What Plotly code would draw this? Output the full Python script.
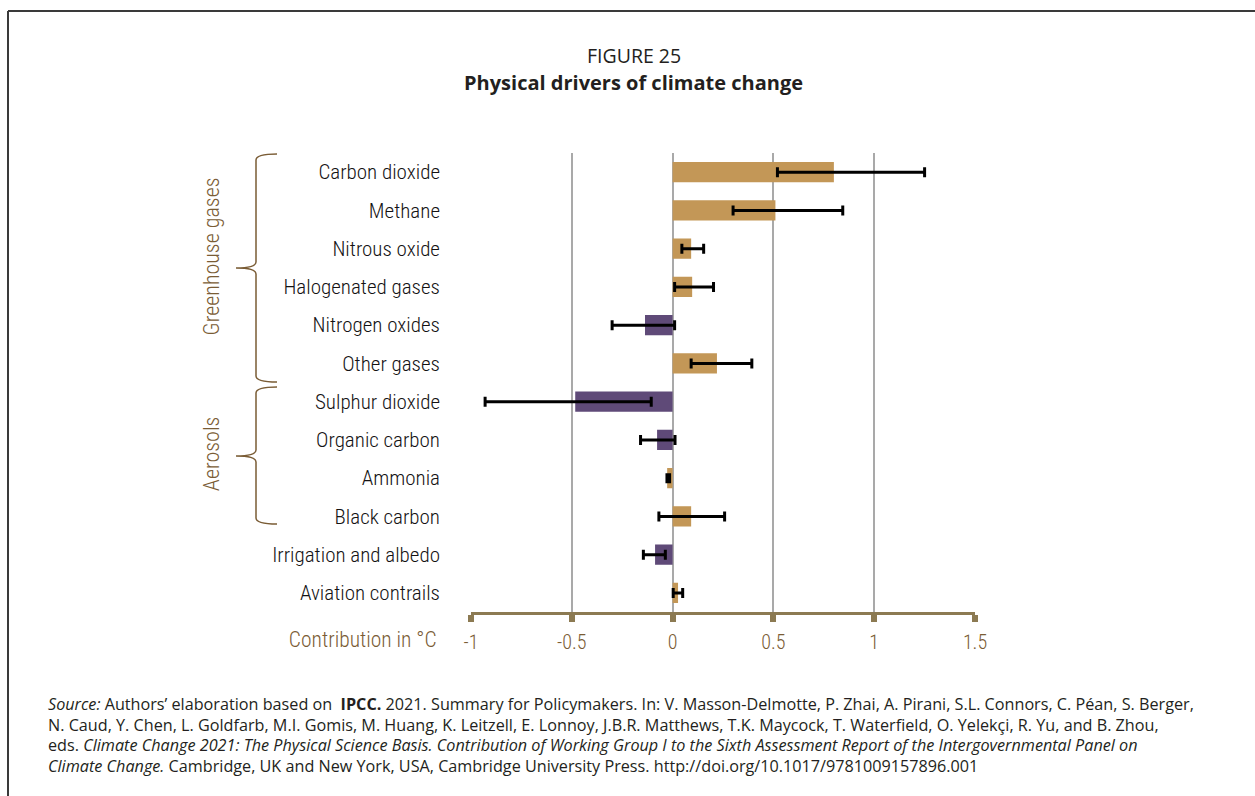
import plotly.graph_objects as go

# ---- data -------------------------------------------------------------
drivers = [
    "Carbon dioxide", "Methane", "Nitrous oxide", "Halogenated gases",
    "Nitrogen oxides", "Other gases", "Sulphur dioxide", "Organic carbon",
    "Ammonia", "Black carbon", "Irrigation and albedo", "Aviation contrails",
]
best_estimate = [0.80, 0.51, 0.092, 0.097, -0.137, 0.22, -0.483, -0.077,
                 -0.027, 0.092, -0.087, 0.027]
range_low = [0.52, 0.30, 0.046, 0.01, -0.30, 0.092, -0.93, -0.159,
             -0.028, -0.068, -0.145, 0.003]
range_high = [1.25, 0.844, 0.154, 0.203, 0.01, 0.393, -0.106, 0.012,
              -0.015, 0.258, -0.036, 0.05]
# warming (True) / cooling (False) shading used in the source figure
warming = [True, True, True, True, False, True, False, False,
           True, True, False, True]

x_ticks = [-1, -0.5, 0, 0.5, 1, 1.5]
x_tick_text = ["-1", "-0.5", "0", "0.5", "1", "1.5"]

# ---- styling ----------------------------------------------------------
TAN = "#C39757"
PURPLE = "#5F4A78"
BROWN = "#7A5C35"
AXIS_BROWN = "#8C7A52"
GRID = "#A9A9A9"
TEXT = "#231F20"
LABEL = "#141213"
COND = "Roboto, sans-serif"      # drawn with condensed width (CSS below)
BODY = "Open Sans, sans-serif"


def cond_font(size, color, weight=300):
    return dict(family=COND, size=size, color=color, weight=weight)


W, H = 1255, 796
PL, PR, PT, PB = 471, 975, 153, 612  # plot area in pixels


def px(x):
    return (x - PL) / (PR - PL)


def py(y):
    return (PB - y) / (PB - PT)


fig = go.Figure()
fig.add_trace(go.Bar(
    y=drivers,
    x=best_estimate,
    orientation="h",
    marker=dict(color=[TAN if w else PURPLE for w in warming], line=dict(width=0)),
    error_x=dict(
        type="data",
        symmetric=False,
        array=[h - v for h, v in zip(range_high, best_estimate)],
        arrayminus=[v - l for l, v in zip(range_low, best_estimate)],
        color="black",
        thickness=3,
        width=5,
    ),
    hoverinfo="x+y",
    showlegend=False,
))

fig.update_layout(
    width=W, height=H,
    margin=dict(l=PL, r=W - PR, t=PT, b=H - PB, pad=0),
    paper_bgcolor="white",
    plot_bgcolor="white",
    bargap=0.47,
    xaxis=dict(
        range=[-1, 1.5],
        tickvals=x_ticks,
        ticktext=x_tick_text,
        showgrid=True, gridcolor=GRID, gridwidth=1.5,
        zeroline=True, zerolinecolor=GRID, zerolinewidth=1.5,
        showline=True, linecolor=AXIS_BROWN, linewidth=3,
        ticks="outside", ticklen=7, tickwidth=6, tickcolor=AXIS_BROWN,
        tickfont=cond_font(20, BROWN),
        ticklabelstandoff=3,
        fixedrange=True,
    ),
    yaxis=dict(
        categoryorder="array", categoryarray=drivers,
        autorange="reversed",
        showgrid=False, zeroline=False, showline=False,
        ticks="", ticklabelstandoff=30,
        tickfont=cond_font(21, LABEL),
        fixedrange=True,
    ),
)

# ---- titles -------------------------------------------------------------
fig.add_annotation(text="FIGURE 25", x=px(634), y=py(55), xref="paper", yref="paper",
                   showarrow=False, xanchor="center", yanchor="middle",
                   font=dict(family=BODY, size=19.5, color=TEXT))
fig.add_annotation(text="<b>Physical drivers of climate change</b>", x=px(633), y=py(83),
                   xref="paper", yref="paper", showarrow=False,
                   xanchor="center", yanchor="middle",
                   font=dict(family=BODY, size=20, color=TEXT))

# axis caption
fig.add_annotation(text="Contribution in °C", x=px(447), y=py(639), xref="paper", yref="paper",
                   showarrow=False, xanchor="right", yanchor="middle",
                   font=cond_font(21.5, BROWN))

# ---- group braces and labels -------------------------------------------


def brace_path(top, tip, bottom, x_end=277, x_stem=256, x_tip=236, r=6):
    pts = [
        f"M {px(x_end)},{py(top)}",
        f"Q {px(x_stem)},{py(top)} {px(x_stem)},{py(top + r)}",
        f"L {px(x_stem)},{py(tip - r)}",
        f"Q {px(x_stem)},{py(tip)} {px(x_tip)},{py(tip)}",
        f"Q {px(x_stem)},{py(tip)} {px(x_stem)},{py(tip + r)}",
        f"L {px(x_stem)},{py(bottom - r)}",
        f"Q {px(x_stem)},{py(bottom)} {px(x_end)},{py(bottom)}",
    ]
    return " ".join(pts)


for top, tip, bottom in [(154, 268, 382), (387, 456, 524)]:
    fig.add_shape(type="path", path=brace_path(top, tip, bottom),
                  xref="paper", yref="paper",
                  line=dict(color=BROWN, width=1.5))

fig.add_annotation(text="Greenhouse gases", x=px(211), y=py(257), xref="paper", yref="paper",
                   showarrow=False, textangle=-90, xanchor="center", yanchor="middle",
                   font=cond_font(22, BROWN))
fig.add_annotation(text="Aerosols", x=px(211), y=py(454), xref="paper", yref="paper",
                   showarrow=False, textangle=-90, xanchor="center", yanchor="middle",
                   font=cond_font(22, BROWN))

# ---- source note --------------------------------------------------------
source_lines = [
    "<i>Source:</i> Authors’ elaboration based on  <b>IPCC.</b> 2021. Summary for Policymakers. "
    "In: V. Masson-Delmotte, P. Zhai, A. Pirani, S.L. Connors, C. Péan, S. Berger,",
    "N. Caud, Y. Chen, L. Goldfarb, M.I. Gomis, M. Huang, K. Leitzell, E. Lonnoy, J.B.R. Matthews, "
    "T.K. Maycock, T. Waterfield, O. Yelekçi, R. Yu, and B. Zhou,",
    "eds. <i>Climate Change 2021: The Physical Science Basis. Contribution of Working Group I to the "
    "Sixth Assessment Report of the Intergovernmental Panel on</i>",
    "<i>Climate Change.</i> Cambridge, UK and New York, USA, Cambridge University Press. "
    "http://doi.org/10.1017/9781009157896.001",
]
for i, line in enumerate(source_lines):
    fig.add_annotation(text=line, x=px(46), y=py(704 + 20.7 * i), xref="paper", yref="paper",
                       showarrow=False, xanchor="left", yanchor="middle",
                       font=dict(family=BODY, size=16.2, color=TEXT))

# ---- outer frame (top and left rules) -----------------------------------
fig.add_shape(type="line", xref="paper", yref="paper",
              x0=px(8), x1=px(W + 5), y0=py(11), y1=py(11),
              line=dict(color="#3A3A3A", width=2))
fig.add_shape(type="line", xref="paper", yref="paper",
              x0=px(8), x1=px(8), y0=py(11), y1=py(H + 5),
              line=dict(color="#3A3A3A", width=2))

# condensed width for the label font
condensed_css = """
var st = document.createElement('style');
st.textContent = 'text[style*="Roboto"] { font-stretch: condensed !important; }';
document.head.appendChild(st);
"""

fig.write_html("out.html", post_script=condensed_css)
